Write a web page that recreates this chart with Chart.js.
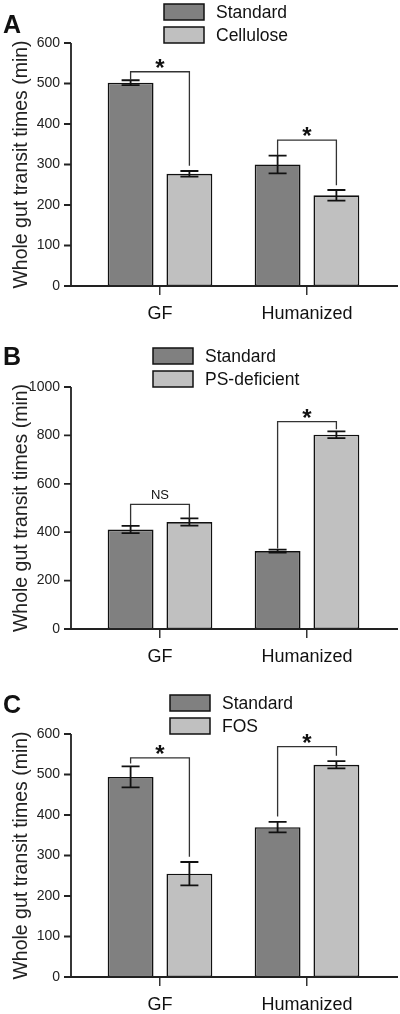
<!DOCTYPE html>
<html>
<head>
<meta charset="utf-8">
<script src="https://cdn.jsdelivr.net/npm/chart.js@4.4.1/dist/chart.umd.min.js"></script>
<style>
  body { margin: 0; background: #fff; }
  #wrap { position: relative; width: 400px; height: 1014px; }
  canvas { position: absolute; left: 0; display: block; }
</style>
</head>
<body>
<div id="wrap">
  <canvas id="chartA" width="400" height="340" style="top:0px"></canvas>
  <canvas id="chartB" width="400" height="340" style="top:340px"></canvas>
  <canvas id="chartC" width="400" height="334" style="top:680px"></canvas>
</div>
<script>
const groups = ['GF', 'Humanized'];
const yTitle = 'Whole gut transit times (min)';

// Panel A - standard vs cellulose diet
const aLegend = ['Standard', 'Cellulose'];
const aStandard = [502, 300];
const aStandardErr = [6, 22];
const aCellulose = [277, 224];
const aCelluloseErr = [7, 13];
const aSigText = ['*', '*'];
const aSigTop = [529, 360];
const aSigLeftEnd = [508, 323];
const aSigRightEnd = [297, 249];

// Panel B - standard vs PS-deficient diet
const bLegend = ['Standard', 'PS-deficient'];
const bStandard = [411, 322];
const bStandardErr = [15, 6];
const bDeficient = [442, 803];
const bDeficientErr = [15, 14];
const bSigText = ['NS', '*'];
const bSigTop = [515, 857];
const bSigLeftEnd = [430, 333];
const bSigRightEnd = [457, 825];

// Panel C - standard vs FOS diet
const cLegend = ['Standard', 'FOS'];
const cStandard = [494, 370];
const cStandardErr = [26, 13];
const cFos = [255, 524];
const cFosErr = [29, 9];
const cSigText = ['*', '*'];
const cSigTop = [541, 569];
const cSigLeftEnd = [527, 396];
const cSigRightEnd = [297, 546];

const FONT = "'Liberation Sans', Arial, sans-serif";
const DARK = '#808080';
const LIGHT = '#c0c0c0';
Chart.defaults.font.family = FONT;

// error bars, brackets, axes, legend and panel letter
function extras(p) {
  return {
    id: 'extras' + p.letter,
    afterDatasetsDraw(chart) {
      const ctx = chart.ctx;
      const area = chart.chartArea;
      const y = chart.scales.y;
      ctx.save();

      // error bars
      ctx.strokeStyle = '#111';
      ctx.lineWidth = 1.8;
      chart.data.datasets.forEach((ds, i) => {
        chart.getDatasetMeta(i).data.forEach((bar, j) => {
          const hi = y.getPixelForValue(ds.data[j] + ds.errors[j]);
          const lo = y.getPixelForValue(ds.data[j] - ds.errors[j]);
          ctx.beginPath();
          ctx.moveTo(bar.x, hi); ctx.lineTo(bar.x, lo);
          ctx.moveTo(bar.x - 9, hi); ctx.lineTo(bar.x + 9, hi);
          ctx.moveTo(bar.x - 9, lo); ctx.lineTo(bar.x + 9, lo);
          ctx.stroke();
        });
      });

      // significance brackets
      const m0 = chart.getDatasetMeta(0).data;
      const m1 = chart.getDatasetMeta(1).data;
      for (let j = 0; j < groups.length; j++) {
        const x0 = m0[j].x, x1 = m1[j].x;
        const top = y.getPixelForValue(p.sigTop[j]);
        ctx.strokeStyle = '#333';
        ctx.lineWidth = 1.3;
        ctx.beginPath();
        ctx.moveTo(x0, y.getPixelForValue(p.sigLeft[j]));
        ctx.lineTo(x0, top);
        ctx.lineTo(x1, top);
        ctx.lineTo(x1, y.getPixelForValue(p.sigRight[j]));
        ctx.stroke();
        ctx.fillStyle = '#111';
        ctx.textAlign = 'center';
        ctx.textBaseline = 'alphabetic';
        if (p.sigText[j] === '*') {
          ctx.font = 'bold 24px ' + FONT;
          ctx.fillText('*', (x0 + x1) / 2, top + 4);
        } else {
          ctx.font = '13px ' + FONT;
          ctx.fillText(p.sigText[j], (x0 + x1) / 2, top - 5.5);
        }
      }

      // axes lines (sit a bit left of the plotting area like the original)
      const axisX = area.left - 15.5;
      ctx.strokeStyle = '#222';
      ctx.lineWidth = 1.8;
      ctx.beginPath();
      ctx.moveTo(axisX, area.top);
      ctx.lineTo(axisX, area.bottom);
      ctx.moveTo(axisX - 7, area.bottom);
      ctx.lineTo(chart.width - 2, area.bottom);
      y.ticks.forEach(t => {
        const py = y.getPixelForValue(t.value);
        ctx.moveTo(axisX - 7, py);
        ctx.lineTo(axisX, py);
      });
      ctx.stroke();

      // legend (two stacked rows)
      ctx.font = '17.5px ' + FONT;
      ctx.textAlign = 'left';
      ctx.textBaseline = 'middle';
      chart.data.datasets.forEach((ds, i) => {
        const top = area.top - 39 + i * 23;
        ctx.fillStyle = ds.backgroundColor;
        ctx.fillRect(p.legendLeft, top, 40, 16);
        ctx.strokeStyle = '#111';
        ctx.lineWidth = 1.5;
        ctx.strokeRect(p.legendLeft, top, 40, 16);
        ctx.fillStyle = '#111';
        ctx.fillText(ds.label, p.legendLeft + 52, top + 9);
      });

      // panel letter
      ctx.font = 'bold 25px ' + FONT;
      ctx.textBaseline = 'alphabetic';
      ctx.fillText(p.letter, 3, p.letterBase);
      ctx.restore();
    }
  };
}

function makeChart(id, p) {
  return new Chart(document.getElementById(id), {
    type: 'bar',
    data: {
      labels: groups,
      datasets: [
        { label: p.legend[0], data: p.first, errors: p.firstErr, backgroundColor: DARK },
        { label: p.legend[1], data: p.second, errors: p.secondErr, backgroundColor: LIGHT }
      ]
    },
    options: {
      responsive: false,
      animation: false,
      layout: { padding: { top: p.padTop, right: 19.5, bottom: 0, left: 0 } },
      datasets: {
        bar: {
          borderColor: '#111',
          borderWidth: 1.6,
          borderSkipped: false,
          categoryPercentage: 0.8,
          barPercentage: 0.78
        }
      },
      plugins: { legend: { display: false }, tooltip: { enabled: false } },
      scales: {
        x: {
          afterFit: s => { s.height = p.xHeight; },
          border: { display: false },
          grid: { display: true, drawOnChartArea: false, offset: false, tickLength: 9, color: '#333', lineWidth: 1.5 },
          ticks: { padding: 8, color: '#111', font: { size: 18 } }
        },
        y: {
          min: 0,
          max: p.yMax,
          afterFit: s => { s.width = 86.5; },
          border: { display: false },
          grid: { display: false, drawTicks: false },
          ticks: { stepSize: p.yStep, padding: 26.5, color: '#222', font: { size: 14 }, callback: v => String(v) },
          title: { display: true, text: yTitle, color: '#222', font: { size: 19.5 }, padding: { top: 10, bottom: 0 } }
        }
      }
    },
    plugins: [extras(p)]
  });
}

makeChart('chartA', {
  letter: 'A', letterBase: 33, legendLeft: 164, padTop: 43, xHeight: 54,
  legend: aLegend, first: aStandard, firstErr: aStandardErr, second: aCellulose, secondErr: aCelluloseErr,
  yMax: 600, yStep: 100, sigText: aSigText, sigTop: aSigTop, sigLeft: aSigLeftEnd, sigRight: aSigRightEnd
});
makeChart('chartB', {
  letter: 'B', letterBase: 25, legendLeft: 153, padTop: 47, xHeight: 51,
  legend: bLegend, first: bStandard, firstErr: bStandardErr, second: bDeficient, secondErr: bDeficientErr,
  yMax: 1000, yStep: 200, sigText: bSigText, sigTop: bSigTop, sigLeft: bSigLeftEnd, sigRight: bSigRightEnd
});
makeChart('chartC', {
  letter: 'C', letterBase: 33, legendLeft: 170, padTop: 54, xHeight: 37,
  legend: cLegend, first: cStandard, firstErr: cStandardErr, second: cFos, secondErr: cFosErr,
  yMax: 600, yStep: 100, sigText: cSigText, sigTop: cSigTop, sigLeft: cSigLeftEnd, sigRight: cSigRightEnd
});
</script>
</body>
</html>
